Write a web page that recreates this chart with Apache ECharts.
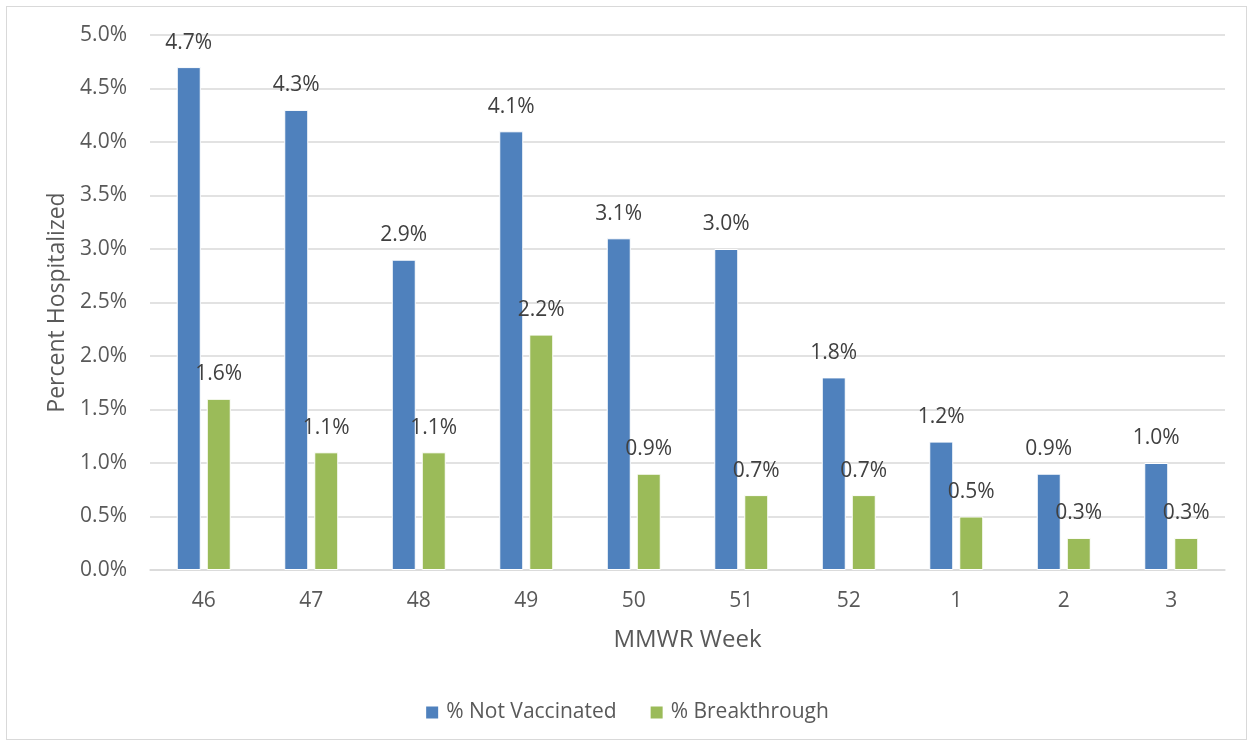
<!DOCTYPE html>
<html><head><meta charset="utf-8">
<script src="https://cdn.jsdelivr.net/npm/echarts@6/dist/echarts.min.js"></script>
<style>html,body{margin:0;padding:0;background:#fff}#c{width:1253px;height:746px}
#frame{position:absolute;left:6px;top:6px;width:1241px;height:734px;border:1px solid #d9d9d9;box-sizing:border-box;pointer-events:none}</style>
</head><body><div id="c"></div><div id="frame"></div>
<script>
const categories = ['46','47','48','49','50','51','52','1','2','3'];
const notVaccinated = [4.7, 4.3, 2.9, 4.1, 3.1, 3.0, 1.8, 1.2, 0.9, 1.0];
const breakthrough = [1.6, 1.1, 1.1, 2.2, 0.9, 0.7, 0.7, 0.5, 0.3, 0.3];
const seriesNames = ['% Not Vaccinated', '% Breakthrough'];
const font = 'Open Sans';
const txt = '#595959';
const chart = echarts.init(document.getElementById('c'));
const lbl = {show:true, position:'top', distance:14, formatter:p=>p.value.toFixed(1)+'%', color:'#404040', fontSize:21, fontFamily:font};
chart.setOption({
  animation:false,
  textStyle:{fontFamily:font},
  grid:{left:150, right:28, top:35, bottom:176},
  legend:{bottom:18, left:'center', itemWidth:14, itemHeight:14, itemGap:32,
    textStyle:{color:txt, fontSize:21, fontFamily:font, padding:[0,0,0,2]}, icon:'rect', data:seriesNames},
  xAxis:{type:'category', data:categories, name:'MMWR Week', nameLocation:'middle', nameGap:58,
    nameTextStyle:{color:txt, fontSize:24, fontFamily:font},
    axisLine:{lineStyle:{color:'#d9d9d9', width:1.5}}, axisTick:{show:false},
    axisLabel:{color:txt, fontSize:21, margin:21, fontFamily:font}},
  yAxis:{type:'value', min:0, max:5, interval:0.5, name:'Percent Hospitalized', nameLocation:'middle', nameGap:80,
    nameTextStyle:{color:txt, fontSize:23, fontFamily:font},
    axisLabel:{formatter:v=>v.toFixed(1)+'%', color:txt, fontSize:21, margin:23, fontFamily:font},
    splitLine:{lineStyle:{color:'#d9d9d9', width:1.5}}, axisLine:{show:false}, axisTick:{show:false}},
  series:[
    {name:seriesNames[0], type:'bar', data:notVaccinated, barWidth:24, barGap:'25%',
      itemStyle:{color:'#4f81bd', borderColor:'#ffffff', borderWidth:1}, label:lbl},
    {name:seriesNames[1], type:'bar', data:breakthrough, barWidth:24,
      itemStyle:{color:'#9bbb59', borderColor:'#ffffff', borderWidth:1}, label:lbl}
  ]
});
</script></body></html>
